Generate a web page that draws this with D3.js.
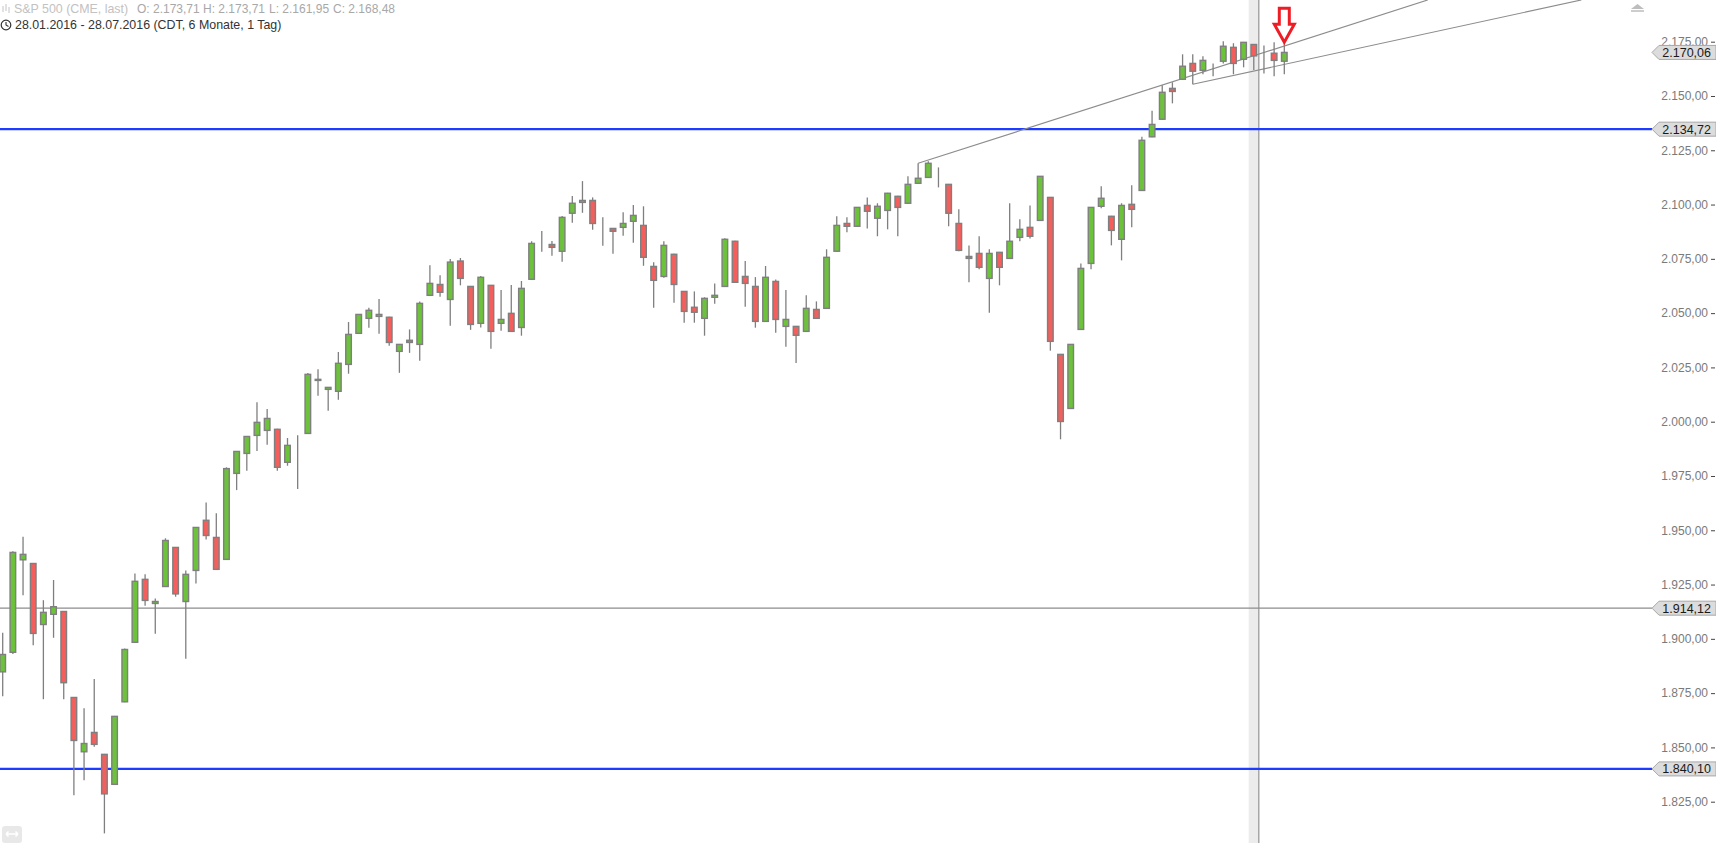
<!DOCTYPE html>
<html><head><meta charset="utf-8">
<script src="https://cdn.jsdelivr.net/npm/d3@7"></script>
<style>html,body{margin:0;padding:0;background:#fff;}svg{display:block;font-family:"Liberation Sans",Arial,sans-serif;}</style>
</head><body>
<svg id="chart" width="1716" height="843"></svg>
<script>
// ---- data (S&P 500 CME, daily, 28.01.2016 - 28.07.2016) ----
const open = [1884.8,1893.8,1936.4,1934.7,1906.6,1911.3,1912.6,1873.0,1848.0,1856.9,1846.8,1833.0,1871.0,1898.4,1927.4,1916.3,1924.1,1942.1,1917.2,1931.5,1954.6,1946.7,1936.6,1976.2,1985.4,1993.7,1996.0,1996.5,1981.3,1989.1,1994.6,2019.5,2014.9,2014.0,2026.4,2040.7,2047.6,2048.5,2048.1,2032.4,2037.5,2035.6,2058.2,2063.2,2056.3,2074.0,2062.3,2045.3,2062.8,2045.3,2049.9,2043.4,2065.6,2081.7,2081.6,2078.5,2096.0,2101.0,2101.9,2091.3,2089.0,2089.5,2092.3,2090.4,2071.5,2066.9,2077.1,2060.0,2052.7,2047.6,2057.3,2062.3,2083.1,2066.9,2062.3,2046.2,2064.6,2043.9,2043.9,2041.6,2051.7,2052.2,2078.5,2091.3,2090.0,2099.6,2093.7,2097.3,2103.8,2100.6,2109.8,2112.5,2115.2,2109.3,2091.3,2076.1,2077.5,2066.0,2078.0,2075.2,2084.9,2089.5,2092.7,2103.3,2031.0,2006.1,2042.5,2072.9,2099.2,2094.6,2084.0,2100.1,2106.5,2131.2,2139.3,2153.5,2157.7,2165.0,2161.8,2164.1,2166.0,2172.4,2166.9,2173.71,2168.8,2169.7,2166.0];
const high = [1902.8,1940.3,1947.0,1934.9,1917.8,1927.1,1912.8,1873.2,1868.0,1881.5,1847.0,1864.5,1895.6,1930.1,1929.7,1918.6,1946.3,1942.3,1931.5,1951.5,1962.8,1957.8,1979.0,1986.5,1993.4,2009.0,2005.8,1996.7,1992.5,1993.8,2022.4,2024.2,2016.0,2032.1,2045.9,2049.6,2052.5,2056.5,2048.3,2035.8,2042.5,2055.4,2072.1,2067.5,2074.9,2075.4,2062.5,2067.1,2063.0,2060.6,2062.9,2064.8,2083.1,2087.8,2083.2,2094.7,2103.9,2110.8,2103.3,2094.1,2089.2,2096.4,2099.8,2099.2,2073.4,2083.1,2077.3,2060.2,2060.0,2057.3,2063.7,2084.5,2083.3,2074.0,2066.6,2071.7,2065.5,2060.6,2044.1,2058.2,2055.4,2079.4,2094.6,2094.1,2098.9,2103.3,2100.6,2105.4,2104.0,2113.0,2119.0,2119.9,2117.1,2109.5,2097.8,2081.2,2085.4,2079.4,2078.2,2100.6,2093.2,2099.6,2113.2,2103.5,2031.2,2035.8,2072.9,2098.9,2108.4,2094.8,2100.6,2108.9,2131.2,2143.2,2154.9,2156.3,2169.2,2169.2,2168.3,2165.0,2175.2,2174.3,2174.9,2173.71,2173.3,2174.7,2174.3];
const low = [1873.6,1893.0,1920.1,1897.1,1872.2,1900.5,1872.2,1828.0,1834.9,1850.3,1810.4,1832.8,1870.8,1898.2,1915.2,1902.3,1923.9,1919.4,1890.8,1925.5,1945.8,1931.8,1936.4,1968.5,1977.4,1986.5,1989.4,1977.4,1979.7,1969.0,1994.4,2011.9,2005.0,2010.1,2022.1,2040.5,2043.3,2040.5,2035.0,2022.5,2031.7,2028.1,2058.0,2057.5,2044.2,2062.8,2042.3,2043.4,2033.6,2041.9,2041.4,2039.6,2065.4,2078.3,2076.4,2073.7,2091.6,2096.2,2088.4,2081.0,2077.3,2085.6,2082.4,2071.8,2052.5,2066.3,2054.8,2045.6,2045.6,2039.6,2054.3,2062.1,2064.0,2052.9,2043.3,2046.0,2041.0,2034.5,2027.0,2041.4,2047.4,2052.0,2078.3,2087.2,2089.8,2089.0,2085.4,2088.6,2085.4,2100.4,2109.6,2112.3,2107.9,2090.0,2078.5,2064.2,2070.2,2050.2,2062.8,2075.0,2083.1,2084.4,2092.5,2032.7,1991.9,2005.9,2042.3,2070.2,2098.3,2081.2,2074.3,2089.5,2106.3,2131.0,2139.1,2146.6,2157.5,2155.4,2160.0,2159.1,2165.0,2160.0,2163.2,2161.95,2160.4,2159.1,2160.0];
const close = [1892.8,1939.8,1938.9,1902.5,1912.2,1914.8,1879.8,1853.2,1851.8,1851.4,1828.6,1864.3,1895.1,1926.5,1917.7,1917.2,1945.3,1920.7,1929.7,1951.3,1947.6,1932.0,1978.4,1986.3,1993.2,1999.7,2001.5,1979.0,1989.1,1989.1,2021.8,2019.0,2015.8,2026.9,2040.2,2049.4,2051.3,2049.4,2036.5,2035.6,2036.5,2054.5,2063.7,2059.6,2073.5,2066.0,2044.8,2066.5,2041.6,2047.1,2041.6,2061.4,2082.1,2081.7,2080.3,2094.1,2100.6,2101.9,2091.3,2091.3,2087.7,2091.3,2095.0,2075.7,2065.1,2081.2,2063.2,2050.8,2050.4,2056.8,2058.2,2084.0,2064.2,2063.7,2046.2,2066.5,2047.1,2047.1,2039.8,2052.2,2047.6,2075.7,2090.4,2090.0,2098.7,2096.9,2099.2,2105.2,2098.7,2109.3,2112.1,2119.0,2115.2,2096.0,2078.9,2075.2,2071.1,2077.5,2071.1,2083.1,2088.6,2085.4,2113.0,2037.0,2000.1,2035.6,2070.6,2098.7,2102.9,2088.1,2099.6,2097.8,2129.6,2136.9,2151.7,2152.1,2163.7,2161.4,2166.4,2164.1,2172.9,2165.0,2174.7,2168.48,2168.8,2166.4,2170.06];
const yTicks = [1825,1850,1875,1900,1925,1950,1975,2000,2025,2050,2075,2100,2125,2150,2175];
const blueLevels = [2134.72, 1840.10];
const greyLevels = [1914.12];
const lastPrice = 2170.06;
const trendUpper = [{i:90, v:2119.0}, {i:140.1, v:2194.2}];
const trendLower = [{i:117, v:2155.4}, {i:155.2, v:2194.2}];
const hoverIndex = 123;
const arrowIndex = 126;
const titleText = "S&P 500 (CME, last)";
const rangeText = "28.01.2016 - 28.07.2016 (CDT, 6 Monate, 1 Tag)";

// ---- setup ----
const W = 1716, H = 843, plotRight = 1652;
const svg = d3.select("#chart");
const fmt = d3.formatLocale({decimal:",", thousands:".", grouping:[3], currency:["",""]}).format(",.2f");
const n = open.length;
const x = d3.scaleLinear().domain([0, n-1]).range([2.7, 1284.3]);
const y = d3.scaleLinear().domain([1825, 2175]).range([801.7, 41.7]);
const step = x(1) - x(0);

svg.append("rect").attr("width", W).attr("height", H).attr("fill", "#fff");
svg.append("defs").append("clipPath").attr("id","plotclip")
  .append("rect").attr("x",0).attr("y",0).attr("width",plotRight).attr("height",H);

// hover band + crosshair
svg.append("rect").attr("x", x(hoverIndex)-step/2).attr("y",0).attr("width", step).attr("height", H).attr("fill","#ececec");
svg.append("line").attr("x1", x(hoverIndex)+step/2).attr("x2", x(hoverIndex)+step/2).attr("y1",0).attr("y2",H)
  .attr("stroke","#808080").attr("stroke-width",1);

// horizontal levels
const lv = svg.append("g");
lv.selectAll("line.grey").data(greyLevels).join("line").attr("class","grey")
  .attr("x1",0).attr("x2",plotRight).attr("y1",d=>y(d)).attr("y2",d=>y(d))
  .attr("stroke","#8c8c8c").attr("stroke-width",1.2);
lv.selectAll("line.blue").data(blueLevels).join("line").attr("class","blue")
  .attr("x1",0).attr("x2",plotRight).attr("y1",d=>y(d)).attr("y2",d=>y(d))
  .attr("stroke","#1e3cff").attr("stroke-width",2.2);

// trend lines
const tl = svg.append("g").attr("clip-path","url(#plotclip)");
const lineGen = d3.line().x(d=>x(d.i)).y(d=>y(d.v));
[trendUpper, trendLower].forEach(t=>{
  tl.append("path").attr("d", lineGen(t)).attr("fill","none").attr("stroke","#8c8c8c").attr("stroke-width",1.2);
});

// candles
const idx = d3.range(n);
const cg = svg.append("g");
cg.selectAll("line.wick").data(idx).join("line").attr("class","wick")
  .attr("x1",i=>x(i)).attr("x2",i=>x(i)).attr("y1",i=>y(high[i])).attr("y2",i=>y(low[i]))
  .attr("stroke","#7f7f7f").attr("stroke-width",1.3);
const bw = 5.6;
cg.selectAll("rect.body").data(idx).join("rect").attr("class","body")
  .attr("x",i=>x(i)-bw/2).attr("width",bw)
  .attr("y",i=>y(Math.max(open[i],close[i])))
  .attr("height",i=>Math.abs(y(open[i])-y(close[i])))
  .attr("fill",i=> close[i]>open[i] ? "#6cc23a" : (close[i]<open[i] ? "#f25f5c" : "#7f7f7f"))
  .attr("stroke","#7f7f7f").attr("stroke-width",1.4);

// red arrow above last candle
const ax = x(arrowIndex), ay = y(high[arrowIndex]) - 1;
const arrowPts = [[ax-5,ay-34],[ax+5,ay-34],[ax+5,ay-18],[ax+10,ay-18],[ax,ay],[ax-10,ay-18],[ax-5,ay-18]];
svg.append("path").attr("d", d3.line()(arrowPts)+"Z").attr("fill","#fff").attr("stroke","#ee1c24").attr("stroke-width",3).attr("stroke-linejoin","miter");

// right axis
const axis = d3.axisLeft(y).tickValues(yTicks).tickFormat(fmt).tickSize(4).tickPadding(3);
const ag = svg.append("g").attr("transform","translate(1715,0)").call(axis);
ag.select(".domain").remove();
ag.selectAll(".tick line").attr("stroke","#444");
ag.selectAll(".tick text").attr("fill","#7a7a7a").style("font-size","12px").style("font-family","'Liberation Sans',Arial,sans-serif");

// price tags
const tags = [lastPrice].concat(blueLevels, greyLevels);
const tg = svg.append("g");
tags.forEach(v=>{
  const yy = y(v);
  tg.append("path").attr("d", `M${plotRight},${yy} L${plotRight+7},${yy-7} L${W},${yy-7} L${W},${yy+7} L${plotRight+7},${yy+7} Z`)
    .attr("fill","#dcdcdc").attr("stroke","#a8a8a8").attr("stroke-width",1);
  tg.append("text").attr("x",1711).attr("y",yy+4.5).attr("text-anchor","end")
    .attr("fill","#1a1a1a").style("font-size","12.5px").text(fmt(v));
});

// header
const hd = svg.append("g");
const ic = hd.append("g").attr("stroke","#c4c4c4").attr("stroke-width",1);
[[3,6,12],[6,4,11],[9,7,13]].forEach(b=>ic.append("line").attr("x1",b[0]).attr("x2",b[0]).attr("y1",b[1]).attr("y2",b[2]));
hd.append("text").attr("x",14).attr("y",13).attr("fill","#c2c2c2").style("font-size","12.4px").text(titleText);
const ohlc = [["O",open[hoverIndex],137],["H",high[hoverIndex],203],["L",low[hoverIndex],269],["C",close[hoverIndex],333]];
ohlc.forEach(o=>hd.append("text").attr("x",o[2]).attr("y",13).attr("fill","#a8a8a8").style("font-size","12px").text(o[0]+": "+fmt(o[1])));
hd.append("circle").attr("cx",6).attr("cy",25).attr("r",4.8).attr("fill","none").attr("stroke","#333").attr("stroke-width",1.2);
hd.append("path").attr("d","M6,22 L6,25 L8.5,26.5").attr("fill","none").attr("stroke","#333").attr("stroke-width",1.1);
hd.append("text").attr("x",15).attr("y",29).attr("fill","#333").style("font-size","12.4px").text(rangeText);

// top-right icon
svg.append("path").attr("d","M1631,9 L1637.5,4 L1644,9 Z").attr("fill","#bdbdbd");
svg.append("line").attr("x1",1631).attr("x2",1644).attr("y1",11).attr("y2",11).attr("stroke","#bdbdbd").attr("stroke-width",1.5);

// bottom-left icon
svg.append("rect").attr("x",2).attr("y",826).attr("width",20).attr("height",17).attr("rx",3).attr("fill","#e8e8e8");
svg.append("path").attr("d","M6,834 L18,834 M6,834 L8.5,831.5 M6,834 L8.5,836.5 M18,834 L15.5,831.5 M18,834 L15.5,836.5")
  .attr("stroke","#fff").attr("stroke-width",1.5).attr("fill","none");
</script>
</body></html>
